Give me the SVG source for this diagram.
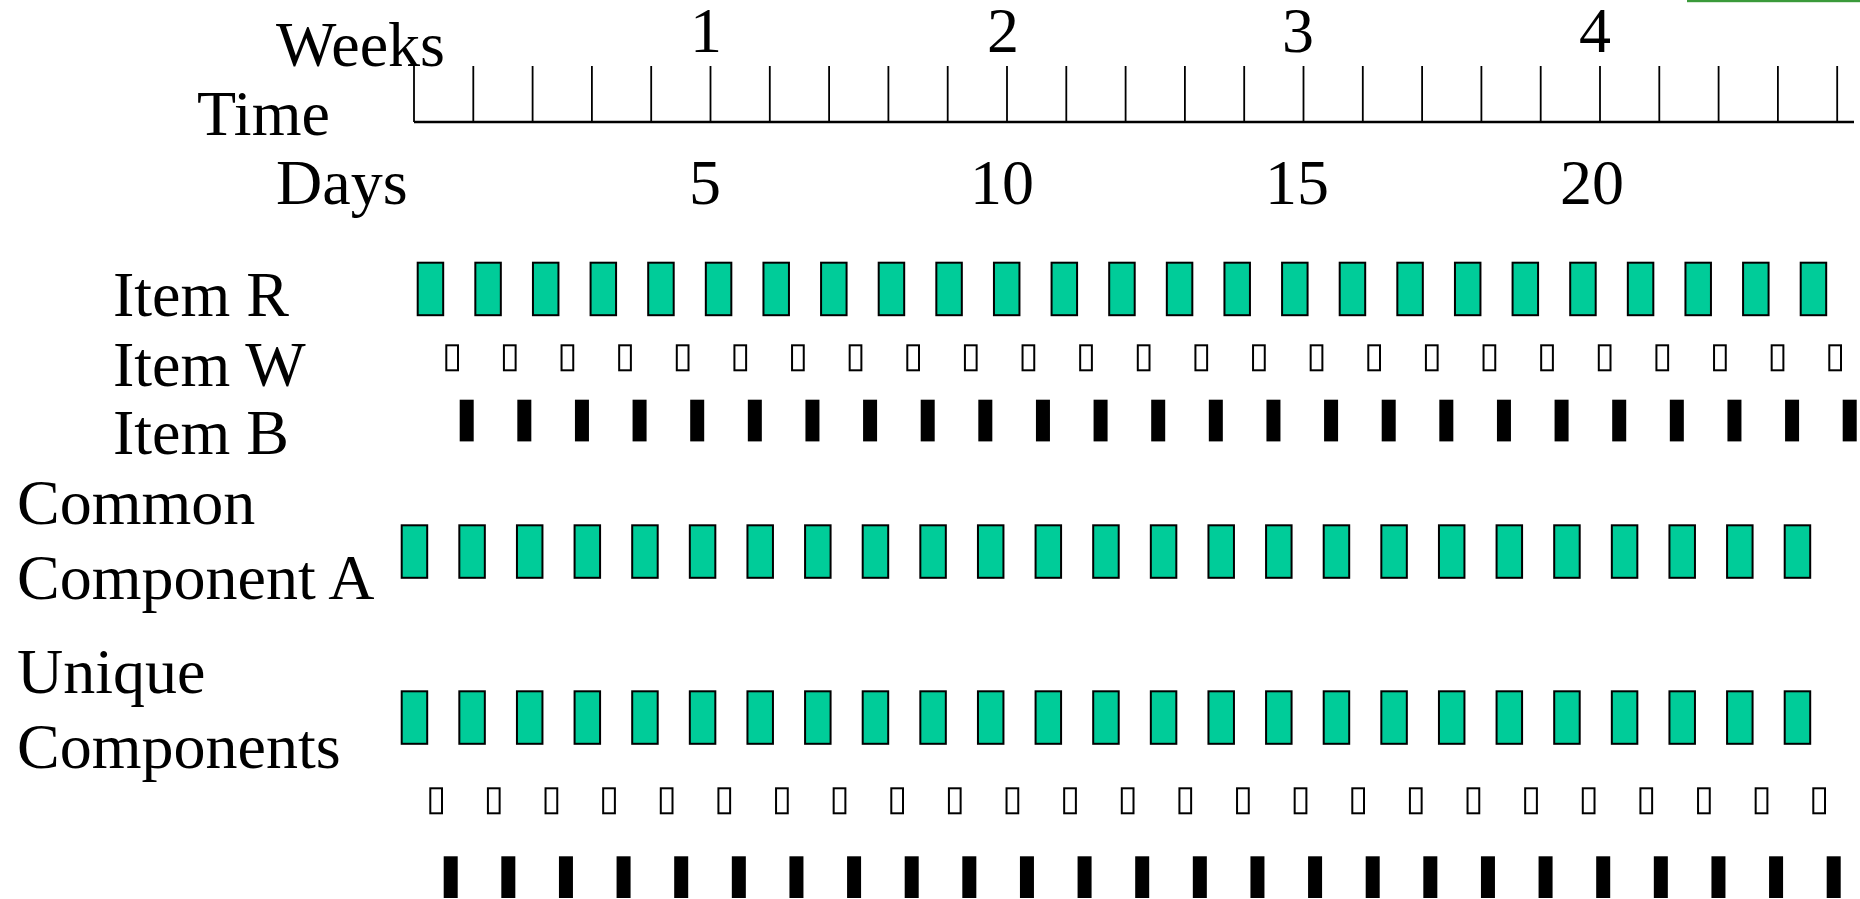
<svg xmlns="http://www.w3.org/2000/svg" xmlns:xlink="http://www.w3.org/1999/xlink" width="1860" height="899" viewBox="0 0 1860 899">
<style>
text{font-family:"Liberation Serif","Times New Roman",serif;font-size:64px;fill:#000}
.c{text-anchor:middle}
.g{fill:#00CC99;stroke:#000;stroke-width:2}
.w{fill:#fff;stroke:#000;stroke-width:2}
.b{fill:#000}
.axis{stroke:#000;stroke-width:2.5;fill:none}
.tick{stroke:#000;stroke-width:1.8}
</style>
<defs>
<rect id="bg" width="25.5" height="52.5" class="g"/>
<rect id="bw" width="11.7" height="25" class="w"/>
<rect id="bb" width="14" height="41.7" class="b"/>
<g id="rowG">
<use href="#bg" x="0"/><use href="#bg" x="57.625"/><use href="#bg" x="115.25"/><use href="#bg" x="172.875"/><use href="#bg" x="230.5"/><use href="#bg" x="288.125"/><use href="#bg" x="345.75"/><use href="#bg" x="403.375"/><use href="#bg" x="461"/><use href="#bg" x="518.625"/><use href="#bg" x="576.25"/><use href="#bg" x="633.875"/><use href="#bg" x="691.5"/><use href="#bg" x="749.125"/><use href="#bg" x="806.75"/><use href="#bg" x="864.375"/><use href="#bg" x="922"/><use href="#bg" x="979.625"/><use href="#bg" x="1037.25"/><use href="#bg" x="1094.875"/><use href="#bg" x="1152.5"/><use href="#bg" x="1210.125"/><use href="#bg" x="1267.75"/><use href="#bg" x="1325.375"/><use href="#bg" x="1383"/>
</g>
<g id="rowW">
<use href="#bw" x="0"/><use href="#bw" x="57.625"/><use href="#bw" x="115.25"/><use href="#bw" x="172.875"/><use href="#bw" x="230.5"/><use href="#bw" x="288.125"/><use href="#bw" x="345.75"/><use href="#bw" x="403.375"/><use href="#bw" x="461"/><use href="#bw" x="518.625"/><use href="#bw" x="576.25"/><use href="#bw" x="633.875"/><use href="#bw" x="691.5"/><use href="#bw" x="749.125"/><use href="#bw" x="806.75"/><use href="#bw" x="864.375"/><use href="#bw" x="922"/><use href="#bw" x="979.625"/><use href="#bw" x="1037.25"/><use href="#bw" x="1094.875"/><use href="#bw" x="1152.5"/><use href="#bw" x="1210.125"/><use href="#bw" x="1267.75"/><use href="#bw" x="1325.375"/><use href="#bw" x="1383"/>
</g>
<g id="rowB">
<use href="#bb" x="0"/><use href="#bb" x="57.625"/><use href="#bb" x="115.25"/><use href="#bb" x="172.875"/><use href="#bb" x="230.5"/><use href="#bb" x="288.125"/><use href="#bb" x="345.75"/><use href="#bb" x="403.375"/><use href="#bb" x="461"/><use href="#bb" x="518.625"/><use href="#bb" x="576.25"/><use href="#bb" x="633.875"/><use href="#bb" x="691.5"/><use href="#bb" x="749.125"/><use href="#bb" x="806.75"/><use href="#bb" x="864.375"/><use href="#bb" x="922"/><use href="#bb" x="979.625"/><use href="#bb" x="1037.25"/><use href="#bb" x="1094.875"/><use href="#bb" x="1152.5"/><use href="#bb" x="1210.125"/><use href="#bb" x="1267.75"/><use href="#bb" x="1325.375"/><use href="#bb" x="1383"/>
</g>
</defs>
<rect width="1860" height="899" fill="#fff"/>
<rect x="1687" y="0" width="173" height="2.2" fill="#3a9a3a"/>

<g id="time-axis">
<text x="276" y="66">Weeks</text>
<text x="197" y="135">Time</text>
<text x="276" y="204">Days</text>
<text class="c" x="706" y="52">1</text>
<text class="c" x="1003" y="52">2</text>
<text class="c" x="1298" y="52">3</text>
<text class="c" x="1595" y="52">4</text>
<text class="c" x="705" y="204">5</text>
<text class="c" x="1002" y="204">10</text>
<text class="c" x="1297" y="204">15</text>
<text class="c" x="1592" y="204">20</text>
<path class="axis" d="M414 122H1854"/>
<path class="tick" d="M414 66V122M473.3 66V122M532.6 66V122M591.9 66V122M651.2 66V122M710.5 66V122M769.8 66V122M829.1 66V122M888.4 66V122M947.7 66V122M1007 66V122M1066.3 66V122M1125.6 66V122M1184.9 66V122M1244.2 66V122M1303.5 66V122M1362.8 66V122M1422.1 66V122M1481.4 66V122M1540.7 66V122M1600 66V122M1659.3 66V122M1718.6 66V122M1777.9 66V122M1837.2 66V122"/>
</g>

<g id="item-r">
<text x="113" y="316">Item R</text>
<use href="#rowG" x="417.7" y="262.7"/>
</g>
<g id="item-w">
<text x="113" y="386">Item W</text>
<use href="#rowW" x="446.3" y="345.3"/>
</g>
<g id="item-b">
<text x="113" y="454">Item B</text>
<use href="#rowB" x="459.7" y="399.7"/>
</g>
<g id="common-component-a">
<text x="17" y="524">Common</text>
<text x="17" y="599">Component A</text>
<use href="#rowG" x="401.7" y="525.3"/>
</g>
<g id="unique-components">
<text x="17" y="693">Unique</text>
<text x="17" y="768">Components</text>
<use href="#rowG" x="401.7" y="691.3"/>
<use href="#rowW" x="430.3" y="788.3"/>
<use href="#rowB" x="443.7" y="856.3"/>
</g>
<g id="connectors"/>
</svg>
